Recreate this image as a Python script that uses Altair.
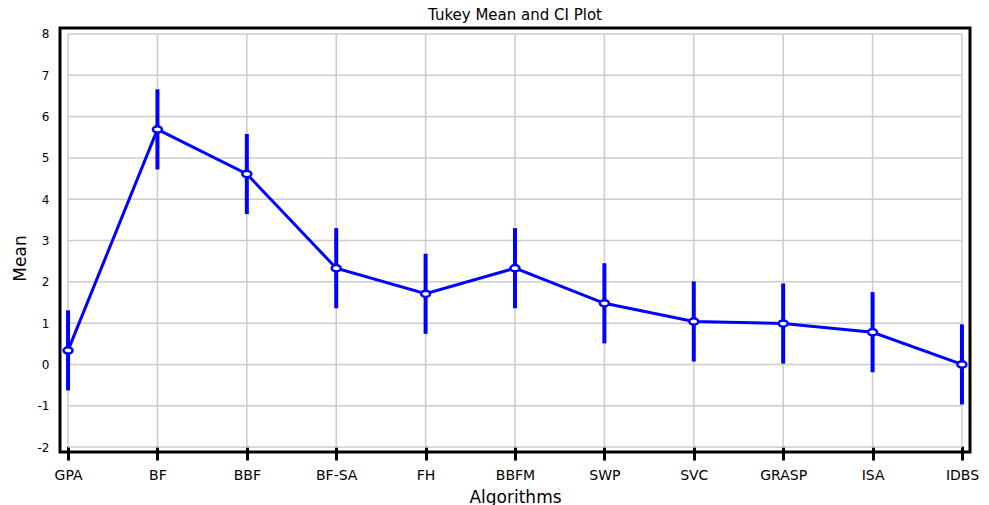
import altair as alt
import pandas as pd

categories = ["GPA", "BF", "BBF", "BF-SA", "FH", "BBFM", "SWP", "SVC", "GRASP", "ISA", "IDBS"]
means = [0.34, 5.69, 4.61, 2.33, 1.71, 2.33, 1.48, 1.04, 0.99, 0.78, 0.0]
lower = [-0.63, 4.72, 3.64, 1.36, 0.74, 1.36, 0.51, 0.07, 0.02, -0.19, -0.97]
upper = [1.31, 6.66, 5.58, 3.30, 2.68, 3.30, 2.45, 2.01, 1.96, 1.75, 0.97]
y_ticks = [-2, -1, 0, 1, 2, 3, 4, 5, 6, 7, 8]

df = pd.DataFrame({"Algorithm": categories, "Mean": means, "Lower": lower, "Upper": upper})
grid_df = pd.DataFrame({"v": y_ticks})
vgrid_df = pd.DataFrame({"Algorithm": categories})

BLUE = "#0000ff"
FONT = "DejaVu Sans"

xscale = alt.Scale(domain=categories, type="point", padding=0.09)
yscale = alt.Scale(domain=[-2.12, 8.145], nice=False, zero=False)

xenc = alt.X(
    "Algorithm:N",
    scale=xscale,
    sort=categories,
    axis=alt.Axis(
        title="Algorithms",
        labelAngle=0,
        labelAlign="center",
        labelBaseline="top",
        labelFont=FONT,
        labelFontSize=14,
        labelColor="black",
        labelPadding=8,
        labelFlush=False,
        labelOverlap=False,
        domain=False,
        grid=False,
        ticks=True,
        tickColor="black",
        tickWidth=3,
        tickSize=14,
        offset=-6,
        titleFont=FONT,
        titleFontSize=17,
        titleFontWeight="normal",
        titleColor="black",
        titleX=455,
        titleY=51,
        titleBaseline="middle",
    ),
)

yaxis = alt.Axis(
    title="Mean",
    values=y_ticks,
    labelExpr="datum.value + ''",
    labelFont=FONT,
    labelFontSize=12,
    labelColor="black",
    labelPadding=11,
    ticks=False,
    domain=False,
    grid=False,
    titleFont=FONT,
    titleFontSize=17,
    titleFontWeight="normal",
    titleColor="black",
    titleX=-40,
    titleY=230,
    titleBaseline="middle",
)

hgrid = alt.Chart(grid_df).mark_rule(color="#cccccc", strokeWidth=1.5).encode(
    y=alt.Y("v:Q", scale=yscale, axis=yaxis),
    x=alt.datum("GPA"),
    x2=alt.datum("IDBS"),
)

vgrid = alt.Chart(vgrid_df).mark_rule(color="#cccccc", strokeWidth=1.5).encode(
    x=xenc,
    y=alt.datum(-2),
    y2=alt.datum(8),
)

errbars = alt.Chart(df).mark_rule(color=BLUE, strokeWidth=4).encode(
    x=alt.X("Algorithm:N", scale=xscale, sort=categories),
    y=alt.Y("Lower:Q", scale=yscale),
    y2="Upper:Q",
)

line = alt.Chart(df).mark_line(color=BLUE, strokeWidth=3).encode(
    x=alt.X("Algorithm:N", scale=xscale, sort=categories),
    y=alt.Y("Mean:Q", scale=yscale),
)

ellipse = "M-1,0 A1,0.7 0 1,0 1,0 A1,0.7 0 1,0 -1,0 Z"
points = alt.Chart(df).mark_point(
    shape=ellipse, filled=True, fill="white", stroke=BLUE, strokeWidth=2.5, size=81, opacity=1
).encode(
    x=alt.X("Algorithm:N", scale=xscale, sort=categories),
    y=alt.Y("Mean:Q", scale=yscale),
)

chart = (
    alt.layer(hgrid, vgrid, errbars, line, points)
    .properties(
        width=910,
        height=424,
        background="white",
        title=alt.TitleParams(
            "Tukey Mean and CI Plot",
            font=FONT,
            fontSize=15,
            fontWeight="normal",
            color="black",
            anchor="middle",
            offset=5,
        ),
        autosize=alt.AutoSizeParams(type="none"),
        padding={"left": 60, "top": 28, "right": 19, "bottom": 53},
    )
    .configure_view(stroke="black", strokeWidth=3)
)

chart.save("out.html", embed_options={"renderer": "svg", "actions": False})
